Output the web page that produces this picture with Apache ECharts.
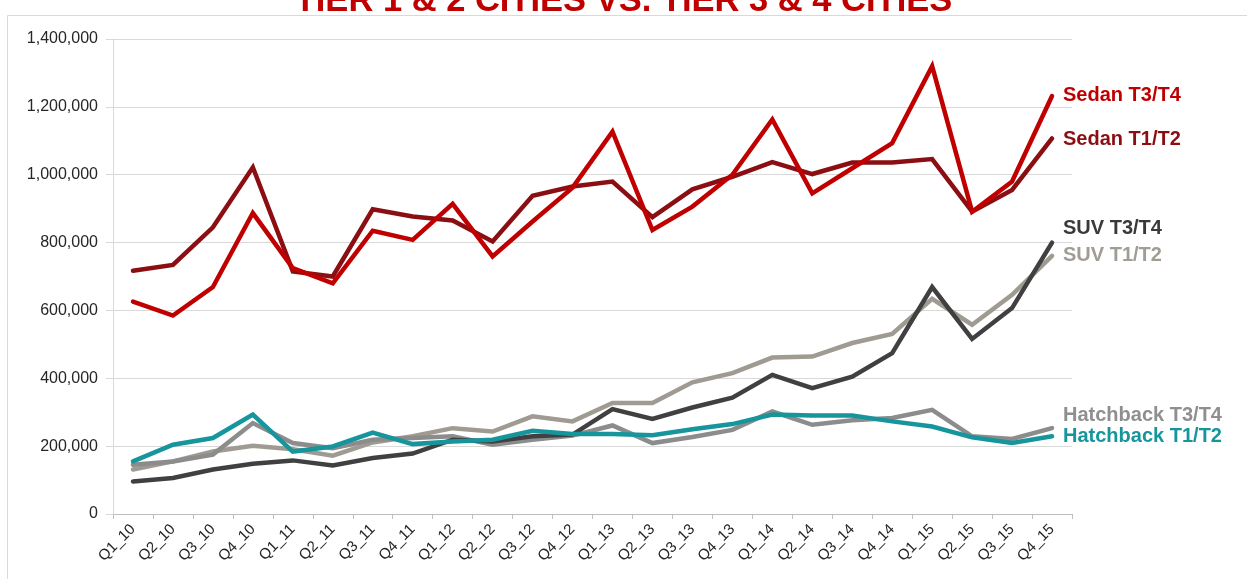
<!DOCTYPE html>
<html>
<head>
<meta charset="utf-8">
<script src="https://cdn.jsdelivr.net/npm/echarts@6/dist/echarts.min.js"></script>
<style>
  html, body { margin: 0; padding: 0; background: #ffffff; }
  #chart { width: 1247px; height: 579px; }
</style>
</head>
<body>
<div id="chart"></div>
<script>
const titleText = 'TIER 1 & 2 CITIES VS. TIER 3 & 4 CITIES';

const categories = ['Q1_10','Q2_10','Q3_10','Q4_10','Q1_11','Q2_11','Q3_11','Q4_11',
  'Q1_12','Q2_12','Q3_12','Q4_12','Q1_13','Q2_13','Q3_13','Q4_13',
  'Q1_14','Q2_14','Q3_14','Q4_14','Q1_15','Q2_15','Q3_15','Q4_15'];

const sedanT1T2 = [717000, 734000, 845000, 1022000, 715000, 700000, 898000, 877000,
  865000, 803000, 938000, 965000, 980000, 875000, 957000, 994000,
  1037000, 1002000, 1036000, 1036000, 1046000, 891000, 955000, 1107000];

const sedanT3T4 = [626000, 585000, 669000, 887000, 725000, 680000, 835000, 808000,
  914000, 759000, 862000, 962000, 1127000, 837000, 906000, 1000000,
  1163000, 945000, 1019000, 1093000, 1320000, 891000, 980000, 1232000];

const suvT1T2 = [131000, 155000, 184000, 201000, 191000, 172000, 211000, 229000,
  253000, 243000, 288000, 273000, 327000, 327000, 388000, 415000,
  461000, 464000, 504000, 531000, 634000, 558000, 646000, 761000];

const suvT3T4 = [96000, 106000, 131000, 148000, 158000, 143000, 165000, 178000,
  219000, 214000, 229000, 234000, 309000, 280000, 314000, 343000,
  410000, 371000, 405000, 474000, 669000, 516000, 607000, 800000];

const hatchT3T4 = [145000, 155000, 175000, 268000, 209000, 194000, 219000, 224000,
  229000, 204000, 219000, 231000, 261000, 209000, 227000, 248000,
  302000, 263000, 276000, 283000, 307000, 229000, 221000, 253000];

const hatchT1T2 = [155000, 204000, 224000, 293000, 184000, 199000, 240000, 206000,
  214000, 219000, 245000, 236000, 236000, 232000, 250000, 265000,
  293000, 290000, 290000, 273000, 258000, 226000, 209000, 229000];

const yMin = 0, yMax = 1400000, yStep = 200000;

const FONT = '"Liberation Sans", Arial, sans-serif';

function mkSeries(name, data, color, labelColor, dy) {
  return {
    name: name,
    type: 'line',
    data: data,
    symbol: 'none',
    smooth: false,
    lineStyle: { color: color, width: 4.5, join: 'miter', cap: 'round' },
    itemStyle: { color: color },
    endLabel: {
      show: true,
      formatter: '{a}',
      color: labelColor,
      fontSize: 20,
      fontWeight: 'bold',
      fontFamily: FONT,
      distance: 11,
      offset: [0, dy]
    },
    emphasis: { disabled: true }
  };
}

const chart = echarts.init(document.getElementById('chart'), null, { renderer: 'canvas' });
chart.setOption({
  animation: false,
  backgroundColor: '#ffffff',
  title: {
    text: titleText,
    left: 'center',
    top: -16,
    padding: 0,
    textStyle: { color: '#C00000', fontSize: 34.5, fontWeight: 'bold', fontFamily: FONT }
  },
  graphic: [{
    type: 'rect',
    silent: true,
    z: -10,
    shape: { x: 7.5, y: 15.5, width: 1400, height: 800 },
    style: { fill: 'none', stroke: '#D9D9D9', lineWidth: 1 }
  }],
  grid: { left: 113, right: 175, top: 39, bottom: 65, containLabel: false },
  xAxis: {
    type: 'category',
    data: categories,
    boundaryGap: true,
    axisLine: { show: true, lineStyle: { color: '#BFBFBF', width: 1 } },
    axisTick: { show: true, interval: 0, length: 5, lineStyle: { color: '#BFBFBF' } },
    axisLabel: {
      interval: 0, rotate: 45, margin: 13,
      fontSize: 15, color: '#262626', fontFamily: FONT
    },
    splitLine: { show: false }
  },
  yAxis: {
    type: 'value',
    min: yMin, max: yMax, interval: yStep,
    axisLine: { show: true, lineStyle: { color: '#D9D9D9' } },
    axisTick: { show: true, inside: false, length: 7, lineStyle: { color: '#D9D9D9' } },
    axisLabel: {
      margin: 15, fontSize: 16, color: '#262626', fontFamily: FONT,
      formatter: function (v) { return v.toLocaleString('en-US'); }
    },
    splitLine: { show: true, lineStyle: { color: '#D9D9D9', width: 1 } }
  },
  legend: { show: false },
  tooltip: { show: false },
  series: [
    mkSeries('SUV T1/T2', suvT1T2, '#A09B92', '#A19D95', 0),
    mkSeries('Hatchback T3/T4', hatchT3T4, '#8C8C8C', '#8F8F8F', -13),
    mkSeries('SUV T3/T4', suvT3T4, '#404040', '#3A3A3A', -14),
    mkSeries('Hatchback T1/T2', hatchT1T2, '#17959D', '#17959D', 0),
    mkSeries('Sedan T1/T2', sedanT1T2, '#8B0E12', '#8B0E12', 1),
    mkSeries('Sedan T3/T4', sedanT3T4, '#C00000', '#C00000', -1)
  ]
});
</script>
</body>
</html>
